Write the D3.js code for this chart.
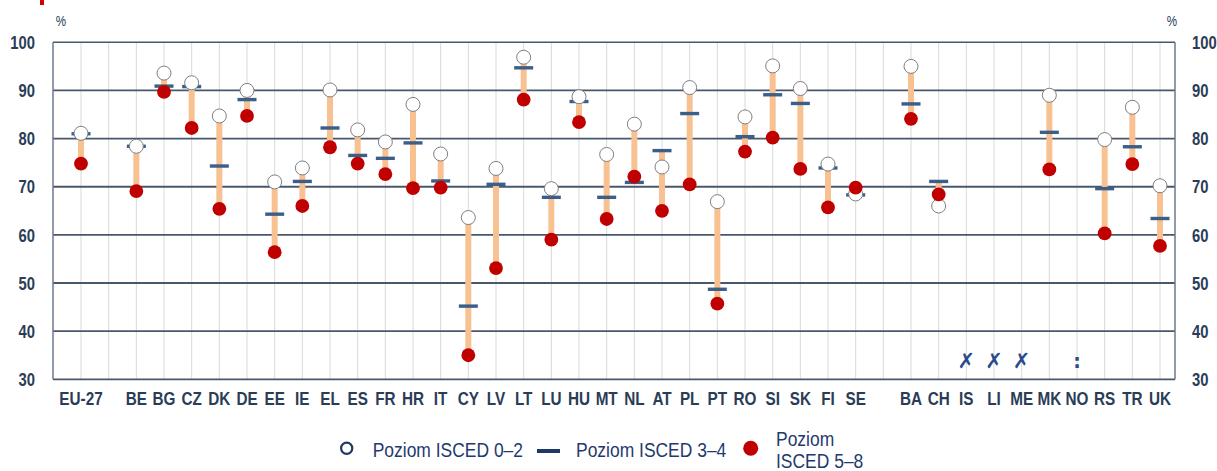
<!DOCTYPE html>
<html>
<head>
<meta charset="utf-8">
<script src="https://d3js.org/d3.v7.min.js"></script>
<style>
  html, body { margin: 0; padding: 0; background: #fff; }
  svg { display: block; }
  .narrow { font-family: "Liberation Sans Narrow", "Arial Narrow", "Liberation Sans", Arial, sans-serif; }
</style>
<title>ISCED</title>
</head>
<body>
<svg id="chart" width="1217" height="471"></svg>
<script>
const width = 1217, height = 471;

// slots along the x axis ("" = empty spacer column)
const categories = ["EU-27", "", "BE", "BG", "CZ", "DK", "DE", "EE", "IE", "EL", "ES", "FR", "HR", "IT",
  "CY", "LV", "LT", "LU", "HU", "MT", "NL", "AT", "PL", "PT", "RO", "SI", "SK", "FI", "SE", " ",
  "BA", "CH", "IS", "LI", "ME", "MK", "NO", "RS", "TR", "UK"];

// ISCED 0-2 (open circle)
const isced02 = [81.1, null, 78.4, 93.6, 91.6, 84.7, 90.0, 71.0, 73.9, 90.1, 81.8, 79.3, 87.1, 76.8,
  63.6, 73.8, 96.9, 69.6, 88.7, 76.7, 83.0, 74.1, 90.6, 66.9, 84.5, 95.1, 90.4, 74.7, 68.5, null,
  95.0, 66.0, null, null, null, 89.0, null, 79.8, 86.5, 70.2];
// ISCED 3-4 (dash)
const isced34 = [81.0, null, 78.4, 90.9, 90.8, 74.3, 88.1, 64.3, 71.1, 82.2, 76.5, 75.9, 79.1, 71.2,
  45.2, 70.5, 94.7, 67.8, 87.7, 67.8, 70.9, 77.5, 85.2, 48.7, 80.4, 89.1, 87.3, 73.9, 68.3, null,
  87.2, 71.1, null, null, null, 81.3, null, 69.6, 78.3, 63.4];
// ISCED 5-8 (red dot)
const isced58 = [74.8, null, 69.1, 89.7, 82.2, 65.4, 84.7, 56.4, 66.0, 78.2, 74.8, 72.6, 69.7, 69.8,
  35.0, 53.1, 88.1, 59.0, 83.4, 63.3, 72.1, 65.0, 70.5, 45.7, 77.3, 80.2, 73.7, 65.7, 69.8, null,
  84.1, 68.4, null, null, null, 73.6, null, 60.3, 74.7, 57.7];

// countries without data and their flag
const noteCodes = ["IS", "LI", "ME", "NO"];
const noteMarks = ["\u2717", "\u2717", "\u2717", ":"];

const yTicks = [30, 40, 50, 60, 70, 80, 90, 100];
const legendLabels = ["Poziom ISCED 0\u20132", "Poziom ISCED 3\u20134", ["Poziom", "ISCED 5\u20138"]];

// plot frame
const frameL = 53, frameR = 1175, frameT = 42.3, frameB = 379.3;
const squeeze = 0.8; // no narrow font installed, so condense the regular one

const svg = d3.select("#chart");

const x = d3.scalePoint().domain(categories).range([81, 1160]);
const y = d3.scaleLinear().domain([30, 100]).range([frameB, frameT]);

const rows = categories.map((c, i) => ({
  code: c, a: isced02[i], b: isced34[i], c: isced58[i]
})).filter(d => d.a != null || d.b != null || d.c != null);

// place a text at (px, py), condensed horizontally
function at(px, py, sx) {
  return (d, i) => {
    const xx = typeof px === "function" ? px(d, i) : px;
    const yy = typeof py === "function" ? py(d, i) : py;
    return `translate(${xx},${yy}) scale(${sx},1)`;
  };
}

// stray red mark at the very top
svg.append("rect").attr("x", 40).attr("y", 0).attr("width", 4).attr("height", 5).attr("fill", "#d00000");

// vertical grid lines at every slot
svg.append("g").selectAll("line").data(categories).join("line")
  .attr("x1", d => x(d)).attr("x2", d => x(d))
  .attr("y1", frameT).attr("y2", frameB)
  .attr("stroke", "#d9d9d9").attr("stroke-width", 1);

// horizontal grid lines
svg.append("g").selectAll("line").data(yTicks).join("line")
  .attr("x1", frameL).attr("x2", frameR)
  .attr("y1", d => y(d)).attr("y2", d => y(d))
  .attr("stroke", "#48586c").attr("stroke-width", d => d === 100 ? 1.5 : 1.8);

// side borders
svg.append("g").selectAll("line").data([frameL, frameR]).join("line")
  .attr("x1", d => d).attr("x2", d => d)
  .attr("y1", frameT).attr("y2", frameB)
  .attr("stroke", "#6b7a8c").attr("stroke-width", 1.5);

// y tick labels, both sides
const tickStyle = sel => sel.attr("class", "narrow").attr("font-size", 18.5).attr("font-weight", "bold")
  .attr("fill", "#2a3d57").attr("dy", "0.36em");
svg.append("g").selectAll("text").data(yTicks).join("text")
  .attr("transform", at(35, d => y(d), squeeze)).attr("text-anchor", "end").text(d => d).call(tickStyle);
svg.append("g").selectAll("text").data(yTicks).join("text")
  .attr("transform", at(1192, d => y(d), squeeze)).attr("text-anchor", "start").text(d => d).call(tickStyle);

svg.append("g").selectAll("text").data([61, 1172]).join("text")
  .attr("class", "narrow").attr("transform", at(d => d, 26, squeeze)).attr("text-anchor", "middle")
  .attr("font-size", 14.5).attr("fill", "#2a3d57").text("%");

// x labels
svg.append("g").selectAll("text").data(categories.filter(c => c.trim() !== "")).join("text")
  .attr("class", "narrow")
  .attr("transform", at(d => x(d), 405, 0.85))
  .attr("text-anchor", "middle")
  .attr("font-size", 18).attr("font-weight", "bold").attr("fill", "#2a3d57")
  .text(d => d);

// range bars
const marks = svg.append("g");
marks.selectAll("rect.bar").data(rows).join("rect").attr("class", "bar")
  .attr("x", d => x(d.code) - 3)
  .attr("width", 6)
  .attr("y", d => y(d3.max([d.a, d.b, d.c])))
  .attr("height", d => y(d3.min([d.a, d.b, d.c])) - y(d3.max([d.a, d.b, d.c])))
  .attr("fill", "#f8c192");

// ISCED 3-4 dashes
marks.selectAll("rect.dash").data(rows).join("rect").attr("class", "dash")
  .attr("x", d => x(d.code) - 9.5).attr("width", 19)
  .attr("y", d => y(d.b) - 1.7).attr("height", 3.4)
  .attr("fill", "#3b5f88");

// ISCED 0-2 circles
marks.selectAll("circle.low").data(rows).join("circle").attr("class", "low")
  .attr("cx", d => x(d.code)).attr("cy", d => y(d.a)).attr("r", 7)
  .attr("fill", "#fff").attr("stroke", "#7f7f7f").attr("stroke-width", 1);

// ISCED 5-8 dots
marks.selectAll("circle.high").data(rows).join("circle").attr("class", "high")
  .attr("cx", d => x(d.code)).attr("cy", d => y(d.c)).attr("r", 6.9)
  .attr("fill", "#c00000");

// flags for missing data
svg.append("g").selectAll("text").data(noteCodes).join("text")
  .attr("x", d => x(d)).attr("y", y(33.8))
  .attr("dy", "0.35em").attr("text-anchor", "middle")
  .attr("font-family", "DejaVu Sans, sans-serif")
  .attr("font-size", (d, i) => noteMarks[i] === ":" ? 19 : 21)
  .attr("font-weight", "bold")
  .attr("fill", "#2b4a8c")
  .text((d, i) => noteMarks[i]);

// legend
const lg = svg.append("g").attr("class", "narrow").attr("fill", "#1f3a6e").attr("font-size", 19.5);
lg.append("circle").attr("cx", 346.7).attr("cy", 448.3).attr("r", 5.6)
  .attr("fill", "#fff").attr("stroke", "#1f3864").attr("stroke-width", 2.2);
lg.append("text").attr("transform", at(372.7, 456.5, 0.895)).text(legendLabels[0]);
lg.append("rect").attr("x", 537).attr("y", 449).attr("width", 23).attr("height", 4).attr("fill", "#1f3864");
lg.append("text").attr("transform", at(576, 456.5, 0.895)).text(legendLabels[1]);
lg.append("circle").attr("cx", 750.7).attr("cy", 448.3).attr("r", 7.5).attr("fill", "#c00000");
lg.append("text").attr("transform", at(776, 445.5, 0.895)).text(legendLabels[2][0]);
lg.append("text").attr("transform", at(776, 467.5, 0.895)).text(legendLabels[2][1]);
</script>
</body>
</html>
